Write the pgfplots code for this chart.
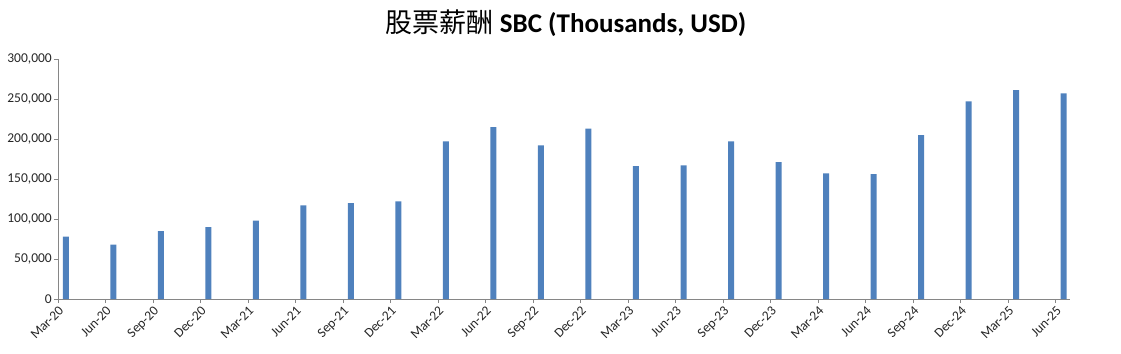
\documentclass[border=0pt]{standalone}
\usepackage{fontspec}
\setmainfont{Carlito}
\newfontfamily\cjk{Noto Sans CJK SC}
\usepackage{pgfplots}
\pgfplotsset{compat=1.18}
\definecolor{barblue}{HTML}{4F81BD}
\definecolor{axgray}{HTML}{868686}
\begin{document}
\begin{tikzpicture}
\begin{axis}[
  name=ax,
  scale only axis,
  width=1012pt, height=240pt,
  xmin=0, xmax=21.3,
  ymin=0, ymax=300000,
  axis x line*=bottom, axis y line*=left,
  axis line style={axgray, line width=0.8pt},
  tick style={axgray, line width=0.8pt},
  major tick length=4pt,
  tick align=outside,
  xtick={0,...,21},
  xticklabels={Mar-20,Jun-20,Sep-20,Dec-20,Mar-21,Jun-21,Sep-21,Dec-21,Mar-22,Jun-22,Sep-22,Dec-22,Mar-23,Jun-23,Sep-23,Dec-23,Mar-24,Jun-24,Sep-24,Dec-24,Mar-25,Jun-25},
  x tick label style={rotate=45, anchor=north east, font=\fontsize{13.5}{15}\selectfont, text=black!85, inner sep=1.5pt},
  ytick={0,50000,...,300000},
  yticklabels={0,{50,000},{100,000},{150,000},{200,000},{250,000},{300,000}},
  scaled y ticks=false,
  y tick label style={font=\fontsize{13.5}{15}\selectfont, text=black!85, inner sep=2pt},
  ybar, bar width=6pt, bar shift=0pt,
  clip=false,
]
\addplot[fill=barblue, draw=none] coordinates {
(0.165,78000) (1.165,68000) (2.165,85000) (3.165,90000) (4.165,98000) (5.165,117000)
(6.165,120000) (7.165,122000) (8.165,197000) (9.165,215000) (10.165,192000) (11.165,213000)
(12.165,166000) (13.165,167000) (14.165,197000) (15.165,171000) (16.165,157000) (17.165,156000)
(18.165,205000) (19.165,247000) (20.165,261000) (21.165,257000)
};
\end{axis}
\node[anchor=center, font=\fontsize{27}{31}\selectfont] at ([xshift=2pt,yshift=36pt]ax.north) {{\cjk 股票薪酬} \textbf{SBC (Thousands, USD)}};
\pgfresetboundingbox
\path ([xshift=-58pt,yshift=-54pt]ax.south west) rectangle ([xshift=51pt,yshift=59pt]ax.north east);
\end{tikzpicture}
\end{document}
